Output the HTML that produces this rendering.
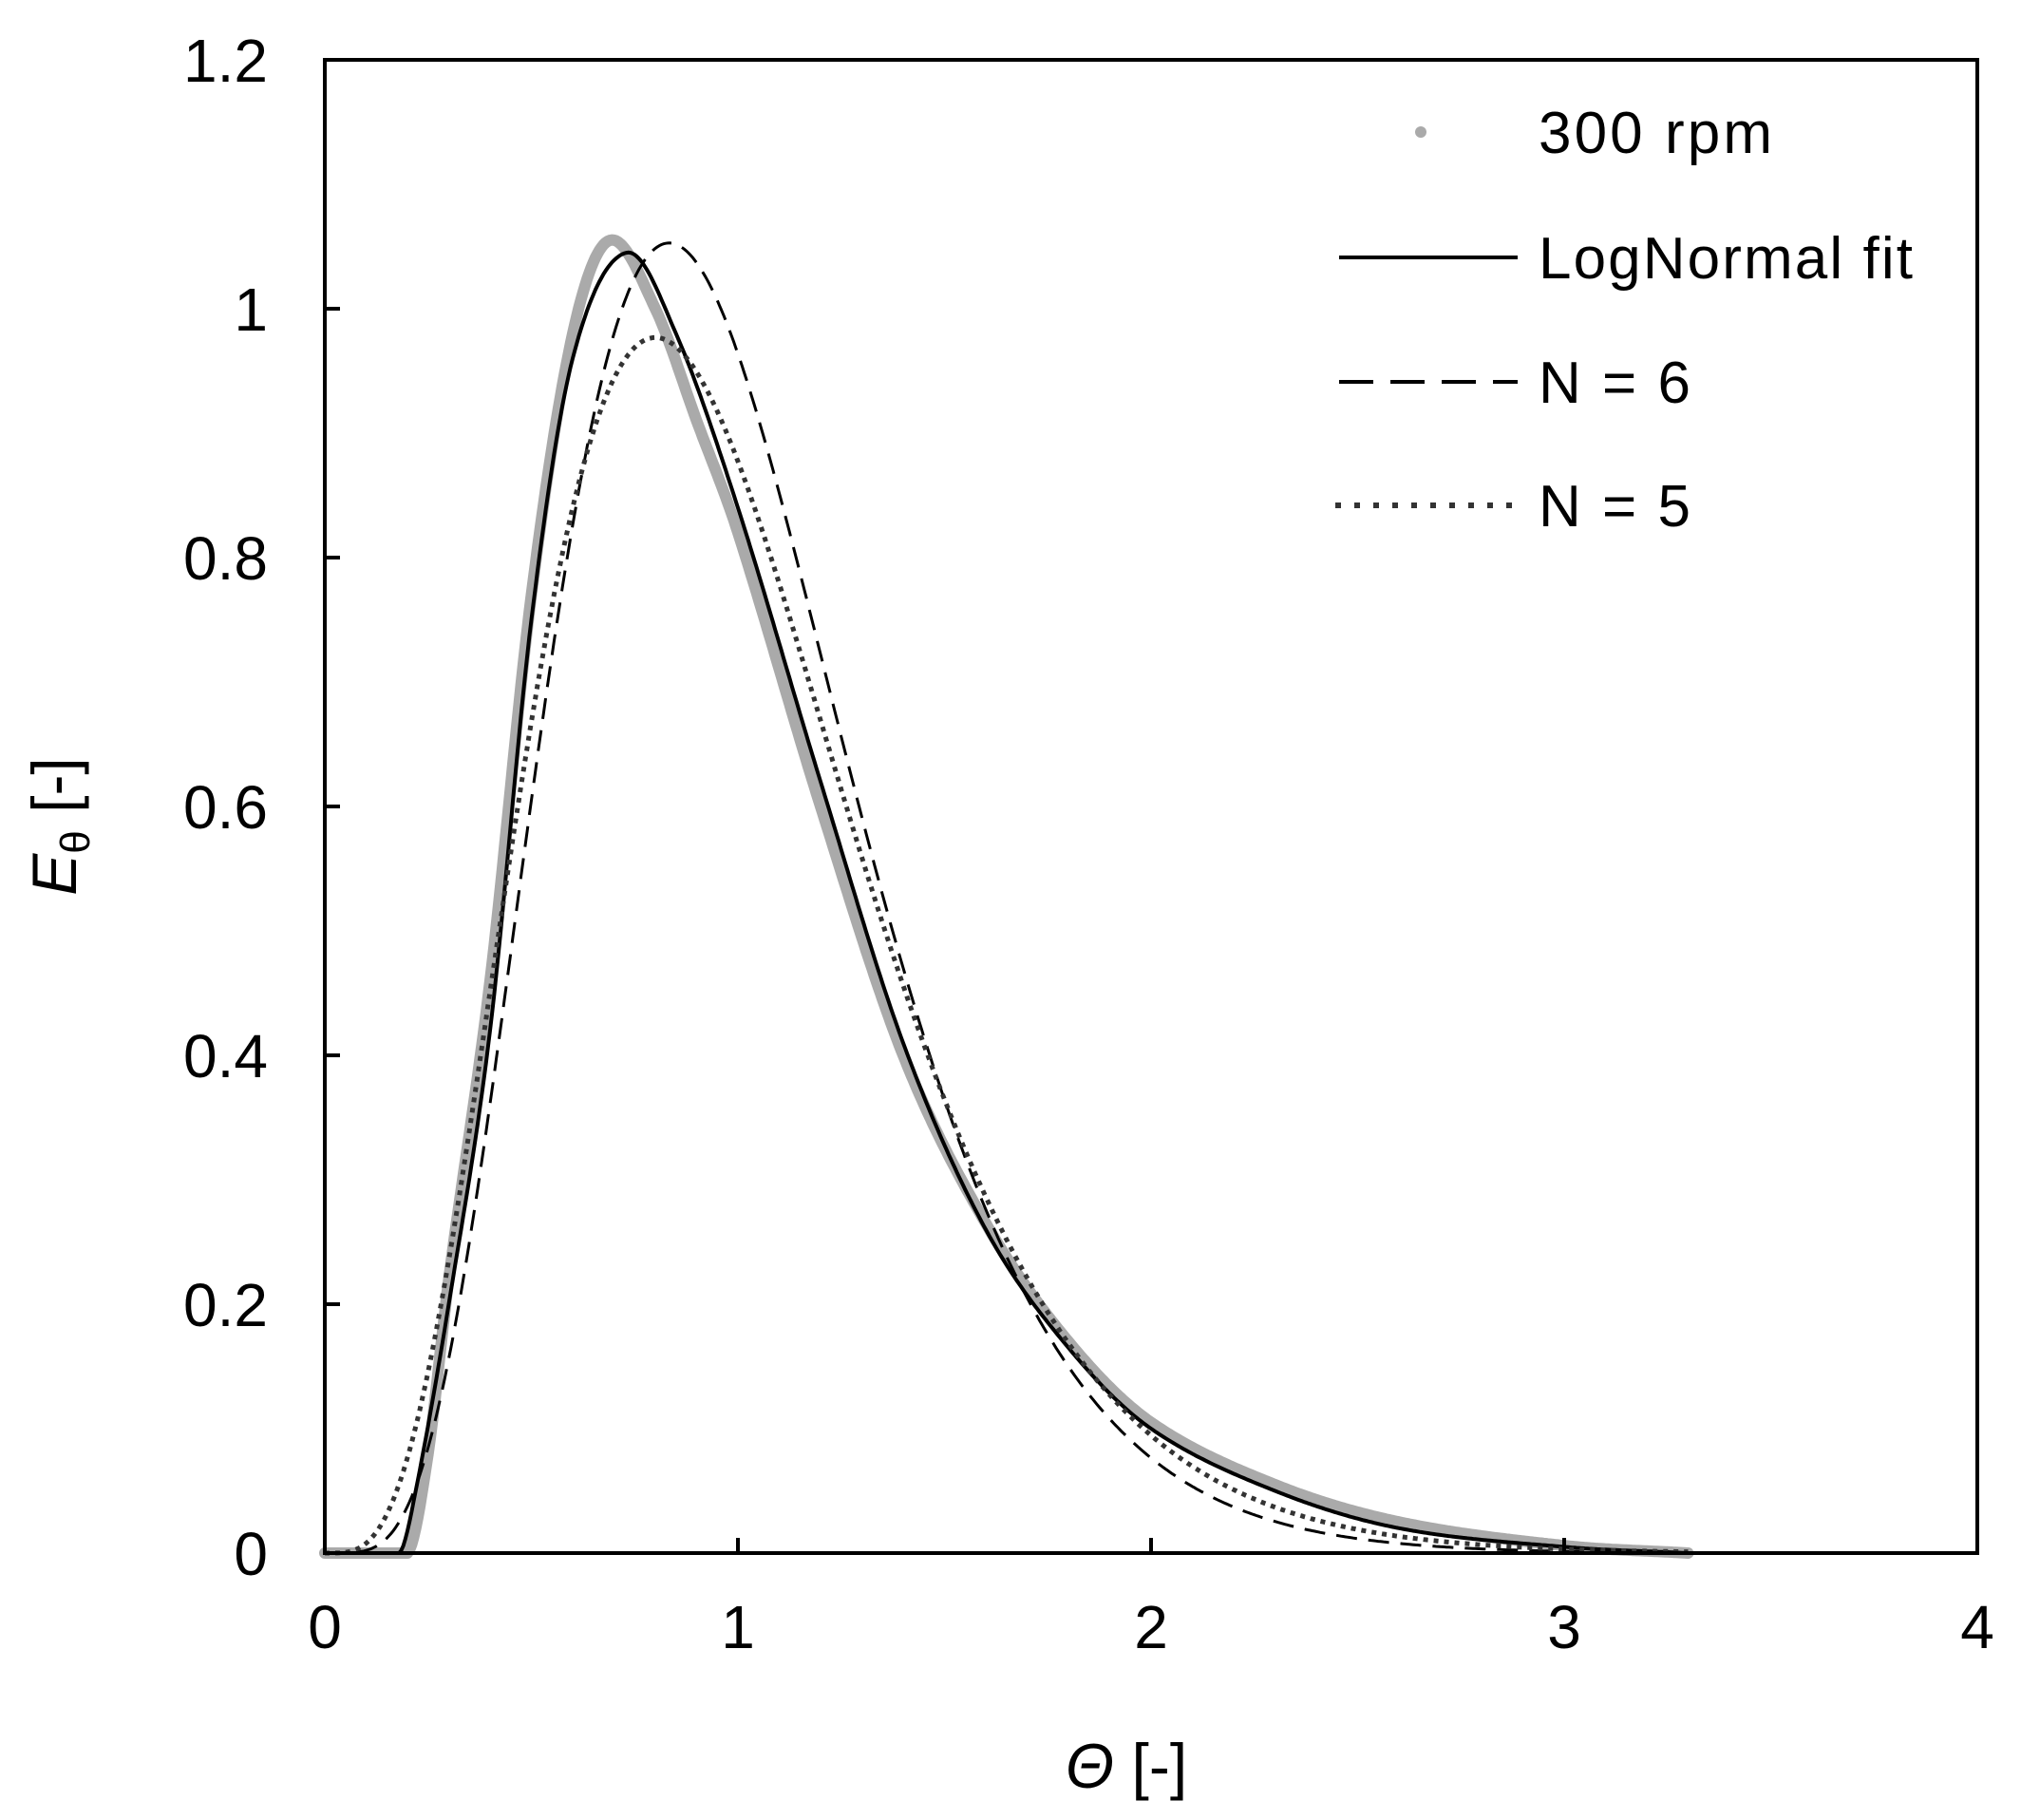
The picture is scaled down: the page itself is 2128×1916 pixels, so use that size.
<!DOCTYPE html>
<html><head><meta charset="utf-8"><style>
html,body{margin:0;padding:0;background:#fff}
svg{display:block}
text{font-family:"Liberation Sans",Arial,sans-serif;fill:#000}
</style></head><body>
<svg id="s" width="2128" height="1916" viewBox="0 0 2128 1916" xmlns="http://www.w3.org/2000/svg">
<rect width="2128" height="1916" fill="#fff"/>
<g id="curves"></g>
<rect x="342" y="63" width="1740" height="1572" fill="none" stroke="#000" stroke-width="4"/>
<g stroke="#000" stroke-width="4">
<line x1="777" y1="1635" x2="777" y2="1619"/><line x1="1212" y1="1635" x2="1212" y2="1619"/><line x1="1647" y1="1635" x2="1647" y2="1619"/>
<line x1="342" y1="1373" x2="358" y2="1373"/><line x1="342" y1="1111" x2="358" y2="1111"/><line x1="342" y1="849" x2="358" y2="849"/><line x1="342" y1="587" x2="358" y2="587"/><line x1="342" y1="325" x2="358" y2="325"/>
</g>
<g font-size="64" text-anchor="end">
<text x="282" y="1658">0</text><text x="282" y="1396">0.2</text><text x="282" y="1134">0.4</text><text x="282" y="872">0.6</text><text x="282" y="610">0.8</text><text x="282" y="348">1</text><text x="282" y="86">1.2</text>
</g>
<g font-size="64" text-anchor="middle">
<text x="342" y="1735">0</text><text x="777" y="1735">1</text><text x="1212" y="1735">2</text><text x="1647" y="1735">3</text><text x="2082" y="1735">4</text>
</g>
<text x="1186" y="1882" font-size="66" text-anchor="middle"><tspan font-style="italic">Θ</tspan> [-]</text>
<text transform="translate(80,870) rotate(-90)" font-size="66" text-anchor="middle"><tspan font-style="italic">E</tspan><tspan font-size="44" dy="14">θ</tspan><tspan dy="-14"> [-]</tspan></text>
<circle cx="1496" cy="139" r="6" fill="#aaa"/>
<line x1="1410" y1="271" x2="1598" y2="271" stroke="#000" stroke-width="4"/>
<line x1="1410" y1="402" x2="1598" y2="402" stroke="#000" stroke-width="4" stroke-dasharray="36,18"/>
<line x1="1406" y1="532" x2="1598" y2="532" stroke="#333" stroke-width="6" stroke-dasharray="6,14"/>
<g font-size="62">
<text x="1620" y="161" textLength="246">300 rpm</text>
<text x="1620" y="293" textLength="394">LogNormal fit</text>
<text x="1620" y="424" textLength="160">N = 6</text>
<text x="1620" y="554" textLength="160">N = 5</text>
</g>
</svg>
<script>
var X=function(t){return 342+435*t},Y=function(e){return 1635-1310*e};
var pts=[[0,0],[0.18,0],[0.22,0.05],[0.3,0.2],[0.4,0.42],[0.5,0.75],[0.6,0.96],[0.73,1.045],[0.85,0.98],[1.0,0.84],[1.2,0.62],[1.4,0.41],[1.6,0.26],[1.8,0.165],[2.0,0.1],[2.3,0.05],[2.6,0.02],[3.0,0.005],[3.3,0]];
function interp(p,t){if(t<=p[0][0])return p[0][1];for(var i=0;i<p.length-1;i++){if(t<=p[i+1][0]){var a=p[Math.max(i-1,0)],b=p[i],c=p[i+1],d=p[Math.min(i+2,p.length-1)];var u=(t-b[0])/(c[0]-b[0]);var m1=(c[1]-a[1])/(c[0]-a[0]||1)*(c[0]-b[0]),m2=(d[1]-b[1])/(d[0]-b[0]||1)*(c[0]-b[0]);var h00=2*u*u*u-3*u*u+1,h10=u*u*u-2*u*u+u,h01=-2*u*u*u+3*u*u,h11=u*u*u-u*u;return Math.max(0,h00*b[1]+h10*m1+h01*c[1]+h11*m2);}}return 0;}
function tis(N,t){var f=1;for(var k=2;k<N;k++)f*=k;return Math.pow(N,N)*Math.pow(t,N-1)*Math.exp(-N*t)/f;}
function path(fn,a,b){var s="";for(var t=a;t<=b+1e-9;t+=0.005){s+=(s?"L":"M")+X(t).toFixed(1)+","+Y(fn(t)).toFixed(1);}return s;}
var g=document.getElementById("curves"),ns="http://www.w3.org/2000/svg";
function add(d,st){var p=document.createElementNS(ns,"path");p.setAttribute("d",d);p.setAttribute("fill","none");for(var k in st)p.setAttribute(k,st[k]);g.appendChild(p);}
var dat=[[0,0],[0.2,0],[0.25,0.08],[0.3,0.22],[0.4,0.46],[0.5,0.77],[0.6,0.98],[0.69,1.055],[0.8,1.0],[0.9,0.91],[1.0,0.82],[1.2,0.6],[1.4,0.4],[1.6,0.265],[1.8,0.17],[2.0,0.105],[2.3,0.055],[2.6,0.025],[3.0,0.006],[3.3,0]];
add(path(function(t){return interp(dat,t)},0,3.3),{stroke:"#aaa","stroke-width":"12","stroke-linejoin":"round","stroke-linecap":"round"});
add(path(function(t){return interp(pts,t)},0,3.3),{stroke:"#000","stroke-width":"4"});
add(path(function(t){return tis(6,t)},0,3.3),{stroke:"#000","stroke-width":"3","stroke-dasharray":"22,12"});
add(path(function(t){return tis(5,t)},0,3.3),{stroke:"#333","stroke-width":"5","stroke-dasharray":"5,6"});
</script>
</body></html>
